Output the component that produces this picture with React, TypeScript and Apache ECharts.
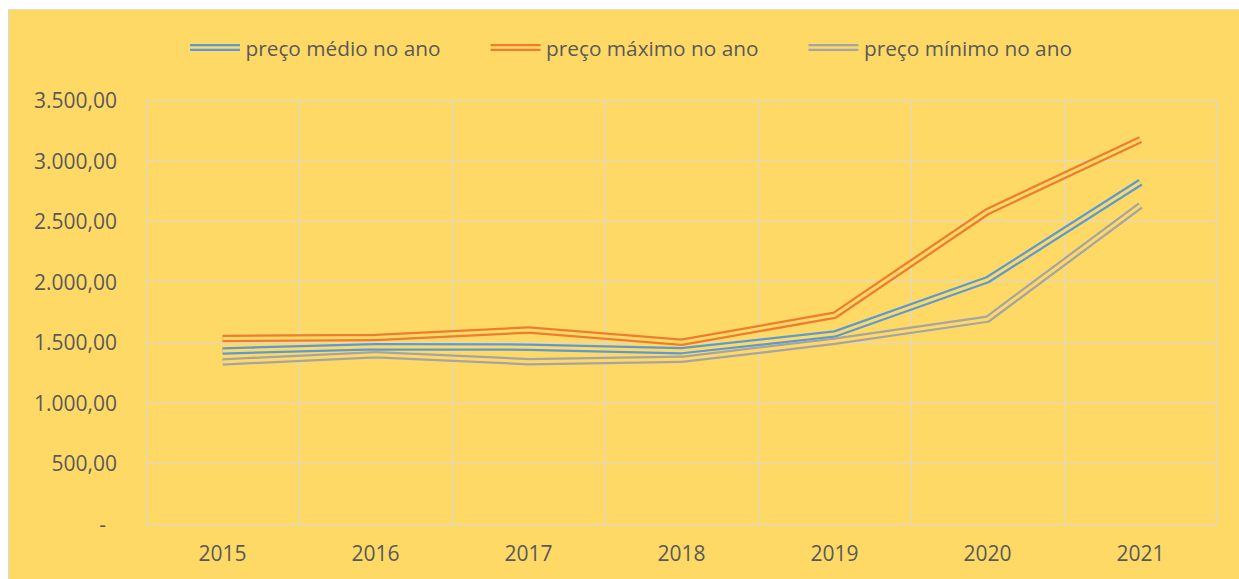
import React, { useEffect, useRef } from "react";
import * as echarts from "echarts";

const years = ["2015", "2016", "2017", "2018", "2019", "2020", "2021"];
const precoMedio = [1429, 1464, 1460, 1431, 1568, 2016, 2821];
const precoMaximo = [1531, 1539, 1601, 1500, 1723, 2579, 3173];
const precoMinimo = [1338, 1398, 1340, 1359, 1508, 1691, 2630];
const seriesNames = ["preço médio no ano", "preço máximo no ano", "preço mínimo no ano"];
const seriesColors = ["#5B9BD5", "#ED7D31", "#A5A5A5"];

const BG = "#FFD966";
const TEXT = "#595959";
const GRID = "#D9D9D9";
const FONT = "'Open Sans', sans-serif";

function fmt(v: number): string {
  if (v === 0) return "{d|-}";
  const s = Math.round(v).toString().replace(/\B(?=(\d{3})+(?!\d))/g, ".");
  return s + ",00";
}

export default function App() {
  const ref = useRef<HTMLDivElement>(null);
  useEffect(() => {
    if (!ref.current) return;
    const chart = echarts.init(ref.current, undefined, { renderer: "svg" });
    const datas = [precoMedio, precoMaximo, precoMinimo];
    const series: any[] = [];
    datas.forEach((d, i) => {
      series.push({
        name: seriesNames[i],
        type: "line",
        xAxisIndex: 0,
        data: d,
        symbol: "none",
        lineStyle: { color: seriesColors[i], width: 7.5, cap: "butt", join: "round" },
        itemStyle: { color: seriesColors[i] },
        z: 2 + i * 2,
        silent: true,
      });
      series.push({
        name: "_inner" + i,
        type: "line",
        xAxisIndex: 0,
        data: d,
        symbol: "none",
        lineStyle: { color: BG, width: 3, cap: "butt", join: "round" },
        itemStyle: { color: BG },
        z: 3 + i * 2,
        silent: true,
      });
    });
    chart.setOption({
      animation: false,
      backgroundColor: BG,
      textStyle: { fontFamily: FONT, color: TEXT },
      legend: {
        data: seriesNames,
        left: 176,
        top: 22,
        itemWidth: 51,
        itemHeight: 7,
        itemGap: 50,
        icon: "path://M0,0H50V2.3H0ZM0,4.7H50V7H0Z",
        textStyle: { fontFamily: FONT, fontSize: 20.8, color: TEXT },
      },
      grid: { left: 137, top: 90, width: 1071, height: 424, containLabel: false },
      xAxis: [
        {
          type: "category",
          data: years,
          boundaryGap: true,
          axisLine: { show: true, lineStyle: { color: GRID, width: 1 } },
          axisTick: { show: false },
          splitLine: { show: false },
          axisLabel: { fontFamily: FONT, fontSize: 21, color: TEXT, margin: 18, interval: 0 },
        },
        {
          type: "value",
          position: "top",
          min: 0,
          max: years.length,
          interval: 1,
          axisLine: { show: false },
          axisTick: { show: false },
          axisLabel: { show: false },
          splitLine: { show: true, lineStyle: { color: GRID, width: 1 } },
        },
      ],
      yAxis: {
        type: "value",
        min: 0,
        max: 3500,
        interval: 500,
        axisLine: { show: false },
        axisTick: { show: false },
        splitLine: { show: true, lineStyle: { color: GRID, width: 1 } },
        axisLabel: {
          fontFamily: FONT,
          fontSize: 21,
          color: TEXT,
          margin: 29,
          formatter: (v: number) => fmt(v),
          rich: { d: { fontFamily: FONT, fontSize: 21, color: TEXT, padding: [0, 11, 0, 0] } },
        },
      },
      series,
    });
    return () => chart.dispose();
  }, []);
  return (
    <div
      style={{
        position: "absolute",
        left: 8,
        top: 9,
        border: "1px solid #D9D9D9",
        borderRight: "none",
        borderBottom: "none",
        background: BG,
      }}
    >
      <div ref={ref} style={{ width: 1240, height: 580 }} />
    </div>
  );
}
